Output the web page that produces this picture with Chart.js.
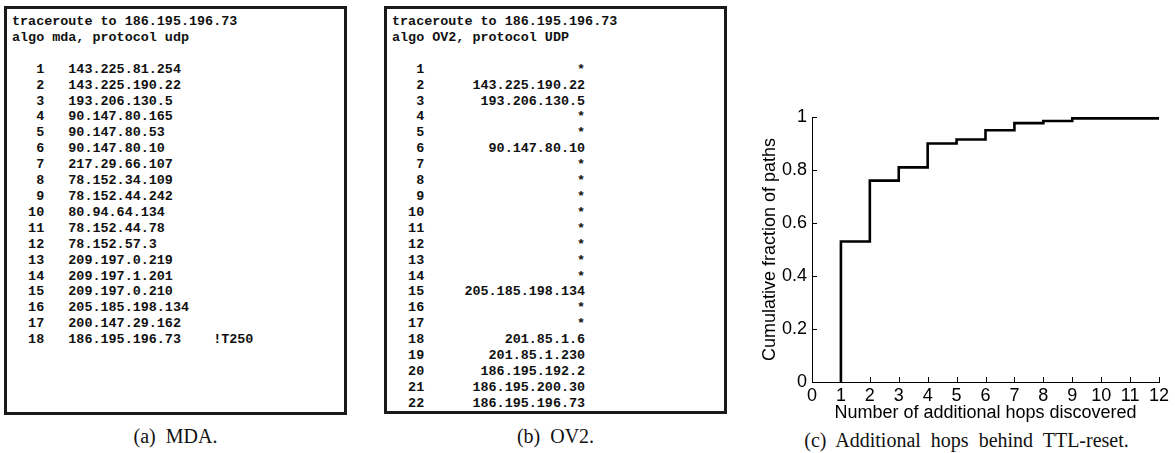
<!DOCTYPE html>
<html>
<head>
<meta charset="utf-8">
<script src="https://cdn.jsdelivr.net/npm/chart.js@4"></script>
<style>
  html, body { margin: 0; padding: 0; background: #fff; }
  #page { position: relative; width: 1175px; height: 453px; overflow: hidden; }
  .box { position: absolute; top: 6px; width: 343px; border: 3px solid #1a1a1a; box-sizing: border-box; }
  .box pre { position: absolute; left: 5px; top: 5px; margin: 0; color: #111;
             font: bold 13.42px/15.9px 'Liberation Mono', 'Courier New', monospace; }
  .cap { position: absolute; text-align: center; color: #111; word-spacing: 5px;
         font: 20px/20px 'Liberation Serif', 'Times New Roman', serif; }
  #cdfChart { position: absolute; left: 755px; top: 80px; }
</style>
</head>
<body>
<div id="page">
  <div class="box" style="left:4px; height:409px;"><pre id="mdaText"></pre></div>
  <div class="box" style="left:384px; height:408px;"><pre id="ov2Text"></pre></div>
  <div class="cap" style="left:4px; width:343px; top:426px;">(a) MDA.</div>
  <div class="cap" style="left:384px; width:343px; top:426px;">(b) OV2.</div>
  <div class="cap" style="left:766px; width:401px; top:430px;">(c) Additional hops behind TTL-reset.</div>
  <canvas id="cdfChart" width="420" height="352"></canvas>
</div>
<script>
// traceroute listings
const target = '186.195.196.73';
const mdaHops = ['143.225.81.254', '143.225.190.22', '193.206.130.5', '90.147.80.165', '90.147.80.53',
  '90.147.80.10', '217.29.66.107', '78.152.34.109', '78.152.44.242', '80.94.64.134', '78.152.44.78',
  '78.152.57.3', '209.197.0.219', '209.197.1.201', '209.197.0.210', '205.185.198.134',
  '200.147.29.162', '186.195.196.73'];
const mdaFlags = { 18: '!T250' };
const ov2Hops = ['*', '143.225.190.22', '193.206.130.5', '*', '*', '90.147.80.10', '*', '*', '*', '*',
  '*', '*', '*', '*', '205.185.198.134', '*', '*', '201.85.1.6', '201.85.1.230', '186.195.192.2',
  '186.195.200.30', '186.195.196.73'];

// CDF of additional hops
const hops = [1, 1, 2, 3, 4, 5, 6, 7, 8, 9, 12];
const cdf = [0, 0.53, 0.76, 0.81, 0.90, 0.915, 0.95, 0.977, 0.985, 0.995, 0.995];
const xTicks = ['0', '1', '2', '3', '4', '5', '6', '7', '8', '9', '10', '11', '12'];
const yTicks = ['0', '0.2', '0.4', '0.6', '0.8', '1'];

const mdaLines = ['traceroute to ' + target, 'algo mda, protocol udp', ''];
mdaHops.forEach((ip, i) => {
  const n = i + 1;
  mdaLines.push(String(n).padStart(4) + '   ' + (mdaFlags[n] ? ip.padEnd(18) + mdaFlags[n] : ip));
});
document.getElementById('mdaText').textContent = mdaLines.join('\n');

const ov2Lines = ['traceroute to ' + target, 'algo OV2, protocol UDP', ''];
ov2Hops.forEach((ip, i) => {
  ov2Lines.push(String(i + 1).padStart(4) + ip.padStart(20));
});
document.getElementById('ov2Text').textContent = ov2Lines.join('\n');

// matlab style ticks pointing into the plot
const inwardTicks = {
  id: 'inwardTicks',
  afterDraw(chart) {
    const { ctx, scales: { x, y } } = chart;
    ctx.save();
    ctx.strokeStyle = '#000';
    ctx.lineWidth = 1;
    ctx.beginPath();
    x.ticks.forEach(t => {
      const px = Math.round(x.getPixelForValue(t.value)) + 0.5;
      ctx.moveTo(px, y.bottom);
      ctx.lineTo(px, y.bottom - 5);
    });
    y.ticks.forEach(t => {
      const py = Math.round(y.getPixelForValue(t.value)) + 0.5;
      ctx.moveTo(x.left, py);
      ctx.lineTo(x.left + 5, py);
    });
    ctx.stroke();
    ctx.restore();
  }
};

const axisFont = { family: "'Liberation Sans', Arial, Helvetica, sans-serif", size: 18 };

new Chart(document.getElementById('cdfChart'), {
  type: 'scatter',
  data: {
    datasets: [{
      data: hops.map((h, i) => ({ x: h, y: cdf[i] })),
      showLine: true,
      stepped: true,
      borderColor: '#000',
      borderWidth: 2.6,
      pointRadius: 0,
      fill: false
    }]
  },
  options: {
    responsive: false,
    animation: false,
    events: [],
    layout: { padding: { top: 37, right: 16, left: 0, bottom: 0 } },
    plugins: { legend: { display: false }, tooltip: { enabled: false } },
    scales: {
      x: {
        type: 'linear',
        min: 0,
        max: 12,
        afterBuildTicks: s => { s.ticks = xTicks.map(t => ({ value: Number(t) })); },
        afterFit: s => { s.height = 50; },
        ticks: { autoSkip: false, maxRotation: 0, color: '#000', font: axisFont, padding: 3,
                 callback: (v, i) => xTicks[i] },
        grid: { display: false, drawTicks: false },
        border: { display: true, color: '#000', width: 1 },
        title: { display: true, text: 'Number of additional hops discovered', color: '#000',
                 font: axisFont, padding: { top: 0, bottom: 8 } }
      },
      y: {
        min: 0,
        max: 1,
        afterBuildTicks: s => { s.ticks = yTicks.map(t => ({ value: Number(t) })); },
        afterFit: s => { s.width = 57; },
        ticks: { autoSkip: false, color: '#000', font: axisFont, padding: 5,
                 callback: (v, i) => yTicks[i] },
        grid: { display: false, drawTicks: false },
        border: { display: true, color: '#000', width: 1 },
        title: { display: true, text: 'Cumulative fraction of paths', color: '#000',
                 font: axisFont, padding: { top: 4, bottom: 0 } }
      }
    }
  },
  plugins: [inwardTicks]
});
</script>
</body>
</html>
